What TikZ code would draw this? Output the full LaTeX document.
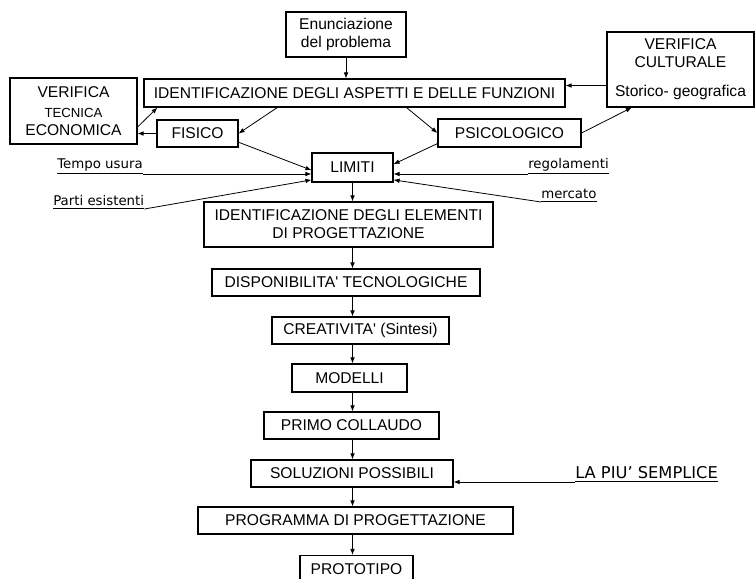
\documentclass[tikz,border=0pt]{standalone}
\usepackage{fontspec}
\setmainfont{Liberation Sans}
\newfontfamily\ulfont{DejaVu Sans}
\usetikzlibrary{arrows.meta,calc}
\newdimen\pix \pix=0.75pt
\newcommand{\smalltxt}{\fontsize{9.9}{12}\selectfont}
\tikzset{
  box/.style ={draw,line width=0.85pt,align=center,inner sep=1pt,font=\fontsize{11.7}{13.5}\selectfont},
  ar/.style  ={-{Latex[length=4.5pt,width=3.5pt]},line width=0.6pt},
  ul/.style  ={inner sep=0pt,anchor=south west,font=\ulfont\fontsize{10}{12}\selectfont},
}

\begin{document}
\begin{tikzpicture}[x=0.75pt,y=-0.75pt]
  \useasboundingbox (0,0) rectangle (755,578);
  % top part
  \node[box,minimum width=120\pix,minimum height=45\pix] (enun) at (346,34.5) {Enunciazione\\del problema};
  \node[box,minimum width=421\pix,minimum height=28\pix] (aspetti) at (354.5,93) {IDENTIFICAZIONE DEGLI ASPETTI E DELLE FUNZIONI};
  \node[box,minimum width=127\pix,minimum height=66\pix] (vtec) at (73.5,111) {VERIFICA\\[1pt]{\smalltxt TECNICA}\\ECONOMICA};
  \node[box,minimum width=147\pix,minimum height=75\pix] (vcult) at (680.5,69.5) {VERIFICA\\CULTURALE\\[8pt]Storico- geografica};
  \node[box,minimum width=81\pix,minimum height=27\pix] (fisico) at (197.5,133.5) {FISICO};
  \node[box,minimum width=143\pix,minimum height=28\pix] (psico) at (509.5,133) {PSICOLOGICO};
  \node[box,minimum width=81\pix,minimum height=29\pix] (limiti) at (352.5,167.5) {LIMITI};
  % side labels
  \node[ul] (tempo) at (57,174) {\underline{Tempo usura}};
  \node[ul] (parti) at (53,209) {\underline{Parti esistenti}};
  \node[ul] (regol) at (528,174) {\underline{regolamenti}};
  \node[ul] (merc) at (541,202) {\underline{mercato}};
  % chain
  \node[box,minimum width=289\pix,minimum height=45\pix] (elem) at (348.5,224.5) {IDENTIFICAZIONE DEGLI ELEMENTI\\DI PROGETTAZIONE};
  \node[box,minimum width=268\pix,minimum height=27\pix] (disp) at (346,282.5) {DISPONIBILITA\textquotesingle{} TECNOLOGICHE};
  \node[box,minimum width=177\pix,minimum height=27\pix] (creat) at (360.5,330.5) {CREATIVITA\textquotesingle{} (Sintesi)};
  \node[box,minimum width=115\pix,minimum height=28\pix] (mod) at (349.5,378) {MODELLI};
  \node[box,minimum width=175\pix,minimum height=27\pix] (primo) at (351.5,425.5) {PRIMO COLLAUDO};
  \node[box,minimum width=202\pix,minimum height=27\pix] (sol) at (352,473.5) {SOLUZIONI POSSIBILI};
  \node[box,minimum width=315\pix,minimum height=27\pix] (prog) at (355.5,520.5) {PROGRAMMA DI PROGETTAZIONE};
  \node[box,minimum width=113\pix,minimum height=27\pix] (proto) at (356.5,569) {PROTOTIPO};
  \node[ul,font=\ulfont\fontsize{12.2}{14}\selectfont] (piu) at (575,482) {\underline{LA PIU’ SEMPLICE}};

  \draw[ar] (enun.south) -- (enun.south |- aspetti.north);
  \draw[ar] ([yshift=-12pt]vcult.west) -- ([yshift=-12pt]vcult.west -| aspetti.east);
  \draw[ar] ([xshift=-58pt]aspetti.south) -- (fisico.east);
  \draw[ar] ([xshift=39pt]aspetti.south) -- (psico.west);
  \draw[ar] (fisico.west) -- (fisico.west -| vtec.east);
  \draw[ar] ([yshift=-12pt]vtec.east) -- ([xshift=10.5pt]aspetti.south west);
  \draw[ar] (psico.east) -- ([xshift=19pt]vcult.south west);
  \draw[ar] ([yshift=4pt]fisico.south east) -- ([yshift=-2pt]limiti.west);
  \draw[ar] ([yshift=3pt]psico.south west) -- ([yshift=2.5pt]limiti.east);
  \draw[ar] (tempo.south east) -- (tempo.south east -| limiti.west);
  \draw[ar] (parti.south east) -- ([yshift=2pt]limiti.south west);
  \draw[ar] (regol.south west) -- (regol.south west -| limiti.east);
  \draw[ar] (merc.south west) -- ([yshift=2pt]limiti.south east);
  \foreach \a/\b in {limiti/elem,elem/disp,disp/creat,creat/mod,mod/primo,primo/sol,sol/prog,prog/proto}
    \draw[ar] (\a.south -| limiti) -- (\b.north -| limiti);
  \draw[ar] (piu.south west) -- (piu.south west -| sol.east);
\end{tikzpicture}
\end{document}
